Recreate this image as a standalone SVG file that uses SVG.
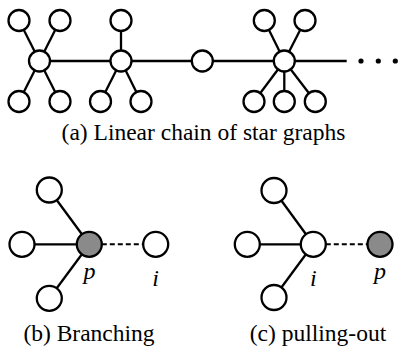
<svg xmlns="http://www.w3.org/2000/svg" width="399" height="347" viewBox="0 0 399 347">
<style>
.e{stroke:#000;stroke-width:2.3;fill:none}
.d{stroke:#000;stroke-width:2;stroke-dasharray:5 3;fill:none}
.n{fill:#fff;stroke:#000;stroke-width:2.3}
.g{fill:#8a8a8a;stroke:#000;stroke-width:2.3}
.cap{font-family:"Liberation Serif",serif;font-size:23.5px;fill:#000;text-anchor:middle}
.lb{font-family:"Liberation Serif",serif;font-style:italic;font-size:24px;fill:#000;text-anchor:middle}
</style>
<rect width="399" height="347" fill="#fff"/>
<g id="connectors">
<line class="e" x1="39.5" y1="61" x2="346.7" y2="61"/>
<line class="e" x1="39.5" y1="61" x2="19" y2="20.5"/>
<line class="e" x1="39.5" y1="61" x2="60" y2="20.5"/>
<line class="e" x1="39.5" y1="61" x2="19" y2="101.5"/>
<line class="e" x1="39.5" y1="61" x2="60" y2="101.5"/>
<line class="e" x1="121" y1="61" x2="121" y2="20.5"/>
<line class="e" x1="121" y1="61" x2="100.5" y2="101.5"/>
<line class="e" x1="121" y1="61" x2="141" y2="101.5"/>
<line class="e" x1="284.3" y1="61" x2="264.3" y2="20.5"/>
<line class="e" x1="284.3" y1="61" x2="305" y2="20.5"/>
<line class="e" x1="284.3" y1="61" x2="254" y2="101.5"/>
<line class="e" x1="284.3" y1="61" x2="284.3" y2="101.5"/>
<line class="e" x1="284.3" y1="61" x2="315.3" y2="101.5"/>
<line class="e" x1="89.3" y1="244.3" x2="49.3" y2="190"/>
<line class="e" x1="89.3" y1="244.3" x2="22" y2="244.3"/>
<line class="e" x1="89.3" y1="244.3" x2="49.3" y2="298.3"/>
<line class="d" x1="101.8" y1="244.3" x2="143.2" y2="244.3"/>
<line class="e" x1="313.3" y1="244.3" x2="274" y2="190.5"/>
<line class="e" x1="313.3" y1="244.3" x2="247.3" y2="244.3"/>
<line class="e" x1="313.3" y1="244.3" x2="274" y2="297.5"/>
<line class="d" x1="325.8" y1="244.3" x2="367.5" y2="244.3"/>
</g>
<g id="star1">
<circle class="n" cx="39.5" cy="61" r="10.5"/>
<circle class="n" cx="19" cy="20.5" r="10.5"/>
<circle class="n" cx="60" cy="20.5" r="10.5"/>
<circle class="n" cx="19" cy="101.5" r="10.5"/>
<circle class="n" cx="60" cy="101.5" r="10.5"/>
</g>
<g id="star2">
<circle class="n" cx="121" cy="61" r="10.5"/>
<circle class="n" cx="121" cy="20.5" r="10.5"/>
<circle class="n" cx="100.5" cy="101.5" r="10.5"/>
<circle class="n" cx="141" cy="101.5" r="10.5"/>
</g>
<g id="mid">
<circle class="n" cx="202.3" cy="61" r="10.5"/>
</g>
<g id="star3">
<circle class="n" cx="284.3" cy="61" r="10.5"/>
<circle class="n" cx="264.3" cy="20.5" r="10.5"/>
<circle class="n" cx="305" cy="20.5" r="10.5"/>
<circle class="n" cx="254" cy="101.5" r="10.5"/>
<circle class="n" cx="284.3" cy="101.5" r="10.5"/>
<circle class="n" cx="315.3" cy="101.5" r="10.5"/>
</g>
<g id="dots">
<circle cx="361" cy="61" r="2.6" fill="#000"/>
<circle cx="378.3" cy="61" r="2.6" fill="#000"/>
<circle cx="395.3" cy="61" r="2.6" fill="#000"/>
</g>
<g id="capA"><text class="cap" x="203.5" y="140">(a) Linear chain of star graphs</text></g>
<g id="b-p">
<circle class="g" cx="89.3" cy="244.3" r="12.5"/>
<text class="lb" x="89.5" y="279">p</text>
</g>
<g id="b-leaves">
<circle class="n" cx="49.3" cy="190" r="12.5"/>
<circle class="n" cx="22" cy="244.3" r="12.5"/>
<circle class="n" cx="49.3" cy="298.3" r="12.5"/>
</g>
<g id="b-i">
<circle class="n" cx="155.7" cy="244.3" r="12.5"/>
<text class="lb" x="155.5" y="286">i</text>
</g>
<g id="capB"><text class="cap" x="89" y="341">(b) Branching</text></g>
<g id="c-leaves">
<circle class="n" cx="274" cy="190.5" r="12.5"/>
<circle class="n" cx="247.3" cy="244.3" r="12.5"/>
<circle class="n" cx="274" cy="297.5" r="12.5"/>
</g>
<g id="c-i">
<circle class="n" cx="313.3" cy="244.3" r="12.5"/>
<text class="lb" x="313.3" y="286">i</text>
</g>
<g id="c-p">
<circle class="g" cx="380" cy="244.3" r="12.5"/>
<text class="lb" x="380" y="279">p</text>
</g>
<g id="capC"><text class="cap" x="318" y="341">(c) pulling-out</text></g>
</svg>
